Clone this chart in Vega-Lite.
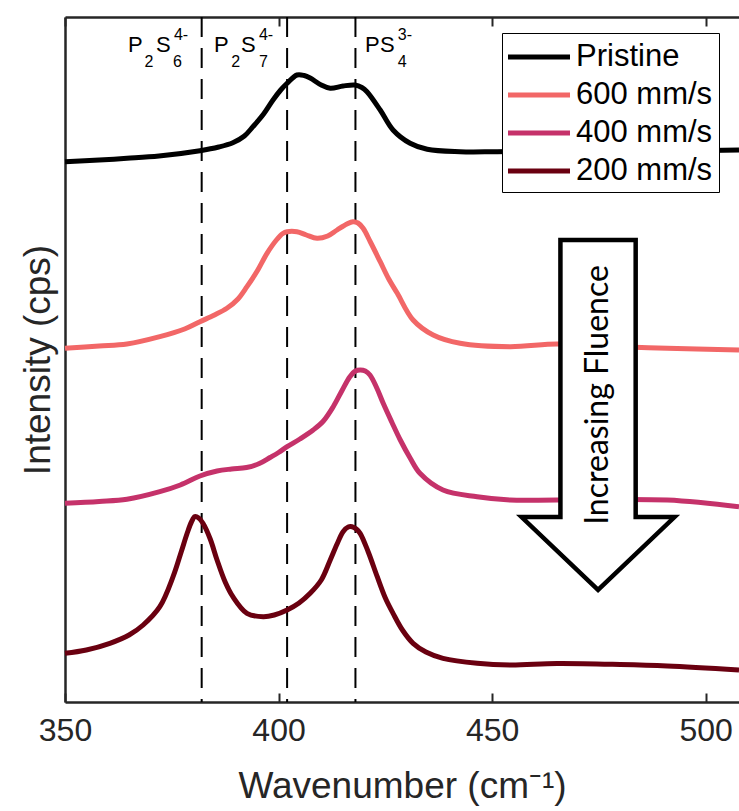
{
  "$schema": "https://vega.github.io/schema/vega-lite/v6.json",
  "width": 674,
  "height": 685,
  "autosize": {"type": "none"},
  "padding": {"left": 65, "top": 17, "right": 0, "bottom": 109},
  "background": "white",
  "config": {
    "view": {"stroke": null},
    "font": "Liberation Sans",
    "axis": {
      "domainColor": "#262626",
      "domainWidth": 2.5,
      "tickColor": "#262626",
      "tickWidth": 2,
      "labelColor": "#262626",
      "labelFont": "Liberation Sans",
      "titleFont": "Liberation Sans",
      "titleColor": "#262626",
      "titleFontWeight": "normal",
      "grid": false
    },
    "legend": {
      "labelFont": "Liberation Sans",
      "labelFontSize": 31,
      "labelColor": "#000000",
      "symbolType": "M-2,0H2",
      "symbolStrokeWidth": 5,
      "symbolSize": 961,
      "symbolOffset": 13,
      "strokeColor": "#000000",
      "fillColor": "white",
      "padding": 6,
      "rowPadding": 5,
      "labelOffset": 19
    }
  },
  "datasets": {
    "spectra": [
      {"series": "Pristine", "wn": 350, "I": 540.3},
      {"series": "Pristine", "wn": 358, "I": 542},
      {"series": "Pristine", "wn": 364.5, "I": 543.7},
      {"series": "Pristine", "wn": 372, "I": 546},
      {"series": "Pristine", "wn": 381.6, "I": 551.3},
      {"series": "Pristine", "wn": 386, "I": 555},
      {"series": "Pristine", "wn": 389.3, "I": 559.3},
      {"series": "Pristine", "wn": 392, "I": 566},
      {"series": "Pristine", "wn": 394, "I": 575.3},
      {"series": "Pristine", "wn": 396.5, "I": 588},
      {"series": "Pristine", "wn": 398.7, "I": 602},
      {"series": "Pristine", "wn": 400.5, "I": 612},
      {"series": "Pristine", "wn": 402, "I": 618.7},
      {"series": "Pristine", "wn": 404.3, "I": 627},
      {"series": "Pristine", "wn": 406, "I": 626.5},
      {"series": "Pristine", "wn": 407.4, "I": 624},
      {"series": "Pristine", "wn": 410, "I": 617},
      {"series": "Pristine", "wn": 412.1, "I": 613.7},
      {"series": "Pristine", "wn": 415.1, "I": 616},
      {"series": "Pristine", "wn": 417.9, "I": 617},
      {"series": "Pristine", "wn": 419.5, "I": 614.5},
      {"series": "Pristine", "wn": 420.7, "I": 610.3},
      {"series": "Pristine", "wn": 423.8, "I": 592},
      {"series": "Pristine", "wn": 426.8, "I": 572},
      {"series": "Pristine", "wn": 430.8, "I": 558.7},
      {"series": "Pristine", "wn": 434.8, "I": 552.7},
      {"series": "Pristine", "wn": 442.5, "I": 550.3},
      {"series": "Pristine", "wn": 451.2, "I": 550.3},
      {"series": "Pristine", "wn": 470, "I": 551},
      {"series": "Pristine", "wn": 490, "I": 551},
      {"series": "Pristine", "wn": 507.8, "I": 552},

      {"series": "600 mm/s", "wn": 350, "I": 353.7},
      {"series": "600 mm/s", "wn": 358, "I": 356},
      {"series": "600 mm/s", "wn": 364.5, "I": 358},
      {"series": "600 mm/s", "wn": 372.2, "I": 365.3},
      {"series": "600 mm/s", "wn": 378, "I": 373},
      {"series": "600 mm/s", "wn": 381.6, "I": 380.3},
      {"series": "600 mm/s", "wn": 385, "I": 387},
      {"series": "600 mm/s", "wn": 387.9, "I": 393.7},
      {"series": "600 mm/s", "wn": 390.5, "I": 403},
      {"series": "600 mm/s", "wn": 392.6, "I": 415.3},
      {"series": "600 mm/s", "wn": 395, "I": 431},
      {"series": "600 mm/s", "wn": 397.3, "I": 448.7},
      {"series": "600 mm/s", "wn": 399.5, "I": 462},
      {"series": "600 mm/s", "wn": 401, "I": 468.5},
      {"series": "600 mm/s", "wn": 402, "I": 470.3},
      {"series": "600 mm/s", "wn": 404.3, "I": 470.3},
      {"series": "600 mm/s", "wn": 406.5, "I": 467},
      {"series": "600 mm/s", "wn": 409, "I": 463.7},
      {"series": "600 mm/s", "wn": 411.5, "I": 466},
      {"series": "600 mm/s", "wn": 413.7, "I": 472},
      {"series": "600 mm/s", "wn": 416, "I": 478},
      {"series": "600 mm/s", "wn": 417.4, "I": 480.3},
      {"series": "600 mm/s", "wn": 418.6, "I": 479},
      {"series": "600 mm/s", "wn": 419.8, "I": 473.7},
      {"series": "600 mm/s", "wn": 421.5, "I": 460},
      {"series": "600 mm/s", "wn": 423.8, "I": 440.3},
      {"series": "600 mm/s", "wn": 425.8, "I": 423},
      {"series": "600 mm/s", "wn": 427.8, "I": 408.7},
      {"series": "600 mm/s", "wn": 431.5, "I": 382},
      {"series": "600 mm/s", "wn": 436.2, "I": 367},
      {"series": "600 mm/s", "wn": 442.5, "I": 358.7},
      {"series": "600 mm/s", "wn": 454.2, "I": 355.3},
      {"series": "600 mm/s", "wn": 465.2, "I": 358},
      {"series": "600 mm/s", "wn": 475.3, "I": 356},
      {"series": "600 mm/s", "wn": 491, "I": 353.7},
      {"series": "600 mm/s", "wn": 507.8, "I": 352},

      {"series": "400 mm/s", "wn": 350, "I": 198.7},
      {"series": "400 mm/s", "wn": 358, "I": 200.5},
      {"series": "400 mm/s", "wn": 364.5, "I": 202.7},
      {"series": "400 mm/s", "wn": 372.2, "I": 210.3},
      {"series": "400 mm/s", "wn": 377, "I": 217},
      {"series": "400 mm/s", "wn": 381.6, "I": 226},
      {"series": "400 mm/s", "wn": 385.6, "I": 231},
      {"series": "400 mm/s", "wn": 389, "I": 233},
      {"series": "400 mm/s", "wn": 392.5, "I": 234.5},
      {"series": "400 mm/s", "wn": 395.5, "I": 238.5},
      {"series": "400 mm/s", "wn": 398, "I": 244.5},
      {"series": "400 mm/s", "wn": 400, "I": 249.5},
      {"series": "400 mm/s", "wn": 402, "I": 255.3},
      {"series": "400 mm/s", "wn": 405, "I": 263},
      {"series": "400 mm/s", "wn": 408.1, "I": 272},
      {"series": "400 mm/s", "wn": 410.5, "I": 281},
      {"series": "400 mm/s", "wn": 412.8, "I": 295.3},
      {"series": "400 mm/s", "wn": 414.8, "I": 311},
      {"series": "400 mm/s", "wn": 416.7, "I": 325.3},
      {"series": "400 mm/s", "wn": 418, "I": 331},
      {"series": "400 mm/s", "wn": 419.1, "I": 332},
      {"series": "400 mm/s", "wn": 420.3, "I": 331},
      {"series": "400 mm/s", "wn": 421.4, "I": 327},
      {"series": "400 mm/s", "wn": 423, "I": 314},
      {"series": "400 mm/s", "wn": 424.5, "I": 298.7},
      {"series": "400 mm/s", "wn": 426.5, "I": 280},
      {"series": "400 mm/s", "wn": 428.5, "I": 262},
      {"series": "400 mm/s", "wn": 430.8, "I": 244},
      {"series": "400 mm/s", "wn": 433.1, "I": 228.7},
      {"series": "400 mm/s", "wn": 438.5, "I": 212},
      {"series": "400 mm/s", "wn": 446.5, "I": 205.3},
      {"series": "400 mm/s", "wn": 454.2, "I": 202},
      {"series": "400 mm/s", "wn": 465.2, "I": 202},
      {"series": "400 mm/s", "wn": 491, "I": 202},
      {"series": "400 mm/s", "wn": 507.8, "I": 195.3},

      {"series": "200 mm/s", "wn": 350, "I": 48.7},
      {"series": "200 mm/s", "wn": 355, "I": 52},
      {"series": "200 mm/s", "wn": 360.5, "I": 58.7},
      {"series": "200 mm/s", "wn": 365, "I": 67},
      {"series": "200 mm/s", "wn": 368.3, "I": 77},
      {"series": "200 mm/s", "wn": 372.2, "I": 95.3},
      {"series": "200 mm/s", "wn": 375.3, "I": 125.3},
      {"series": "200 mm/s", "wn": 377.2, "I": 150},
      {"series": "200 mm/s", "wn": 378.6, "I": 168.7},
      {"series": "200 mm/s", "wn": 379.6, "I": 180},
      {"series": "200 mm/s", "wn": 380.4, "I": 185.3},
      {"series": "200 mm/s", "wn": 381.3, "I": 184},
      {"series": "200 mm/s", "wn": 382.3, "I": 178.7},
      {"series": "200 mm/s", "wn": 384, "I": 163},
      {"series": "200 mm/s", "wn": 385.6, "I": 142},
      {"series": "200 mm/s", "wn": 387.5, "I": 120},
      {"series": "200 mm/s", "wn": 389.3, "I": 105.3},
      {"series": "200 mm/s", "wn": 392.6, "I": 88.7},
      {"series": "200 mm/s", "wn": 396.4, "I": 85.3},
      {"series": "200 mm/s", "wn": 399, "I": 87},
      {"series": "200 mm/s", "wn": 402, "I": 92},
      {"series": "200 mm/s", "wn": 404.8, "I": 99},
      {"series": "200 mm/s", "wn": 407.4, "I": 108.7},
      {"series": "200 mm/s", "wn": 410, "I": 122},
      {"series": "200 mm/s", "wn": 412.1, "I": 142},
      {"series": "200 mm/s", "wn": 413.7, "I": 158},
      {"series": "200 mm/s", "wn": 415.1, "I": 170.3},
      {"series": "200 mm/s", "wn": 416.3, "I": 175},
      {"series": "200 mm/s", "wn": 417.2, "I": 175.3},
      {"series": "200 mm/s", "wn": 418.2, "I": 173},
      {"series": "200 mm/s", "wn": 419.1, "I": 168.7},
      {"series": "200 mm/s", "wn": 421, "I": 150},
      {"series": "200 mm/s", "wn": 423.1, "I": 125.3},
      {"series": "200 mm/s", "wn": 425, "I": 104},
      {"series": "200 mm/s", "wn": 426.8, "I": 88.7},
      {"series": "200 mm/s", "wn": 429, "I": 72},
      {"series": "200 mm/s", "wn": 431.5, "I": 58.7},
      {"series": "200 mm/s", "wn": 434.5, "I": 50},
      {"series": "200 mm/s", "wn": 438.5, "I": 43.7},
      {"series": "200 mm/s", "wn": 446.5, "I": 38.7},
      {"series": "200 mm/s", "wn": 454.2, "I": 37},
      {"series": "200 mm/s", "wn": 465.2, "I": 38.5},
      {"series": "200 mm/s", "wn": 480, "I": 37.5},
      {"series": "200 mm/s", "wn": 491, "I": 36},
      {"series": "200 mm/s", "wn": 507.8, "I": 32}
    ],
    "peaks": [
      {"wn": 382},
      {"wn": 402},
      {"wn": 418}
    ],
    "peakText": [
      {"piece": "P", "role": "main", "wn": 364.75},
      {"piece": "2", "role": "sub", "wn": 368.6},
      {"piece": "S", "role": "main", "wn": 371.3},
      {"piece": "6", "role": "sub", "wn": 375.3},
      {"piece": "4-", "role": "sup", "wn": 375.5},
      {"piece": "P", "role": "main", "wn": 384.89},
      {"piece": "2", "role": "sub", "wn": 388.9},
      {"piece": "S", "role": "main", "wn": 391.2},
      {"piece": "7", "role": "sub", "wn": 395.4},
      {"piece": "4-", "role": "sup", "wn": 395.4},
      {"piece": "P", "role": "main", "wn": 420.26},
      {"piece": "S", "role": "main", "wn": 423.77},
      {"piece": "4", "role": "sub", "wn": 427.9},
      {"piece": "3-", "role": "sup", "wn": 427.9}
    ],
    "arrow": [
      {"wn": 474.8, "I": 287, "text": "Increasing Fluence"}
    ]
  },
  "layer": [
    {
      "data": {"name": "peaks"},
      "mark": {"type": "rule", "color": "#000000", "strokeWidth": 2, "strokeDash": [20, 11]},
      "encoding": {
        "x": {
          "field": "wn", "type": "quantitative",
          "scale": {"domain": [350, 507.8], "nice": false, "zero": false},
          "axis": {"orient": "top", "values": [350, 400, 450, 500], "labels": false, "title": null, "tickSize": -9, "domain": true}
        }
      }
    },
    {
      "data": {"name": "spectra"},
      "mark": {"type": "line", "strokeWidth": 5, "interpolate": "catmull-rom"},
      "encoding": {
        "x": {
          "field": "wn", "type": "quantitative",
          "scale": {"domain": [350, 507.8], "nice": false, "zero": false},
          "axis": {
            "orient": "bottom", "values": [350, 400, 450, 500], "tickSize": -9,
            "labelFontSize": 32, "labelPadding": 22, "labelFlush": false,
            "title": "Wavenumber (cm⁻¹)", "titleFontSize": 37, "titlePadding": 22
          }
        },
        "y": {
          "field": "I", "type": "quantitative",
          "scale": {"domain": [0, 685], "nice": false, "zero": false},
          "axis": {
            "orient": "left", "ticks": false, "labels": false,
            "title": "Intensity (cps)", "titleFontSize": 37, "titlePadding": 8
          }
        },
        "color": {
          "field": "series", "type": "nominal",
          "scale": {
            "domain": ["Pristine", "600 mm/s", "400 mm/s", "200 mm/s"],
            "range": ["#000000", "#F26767", "#C5326A", "#6A0010"]
          },
          "legend": {"orient": "none", "legendX": 437, "legendY": 16, "title": null}
        },
        "order": {"field": "wn", "type": "quantitative"}
      }
    },
    {
      "data": {"name": "peakText"},
      "transform": [{"filter": "datum.role === 'main'"}],
      "mark": {"type": "text", "fontSize": 22, "font": "Liberation Sans", "color": "#000000", "align": "left", "baseline": "alphabetic"},
      "encoding": {
        "x": {"field": "wn", "type": "quantitative", "axis": null},
        "y": {"datum": 649.7, "type": "quantitative", "axis": null},
        "text": {"field": "piece"}
      }
    },
    {
      "data": {"name": "peakText"},
      "transform": [{"filter": "datum.role === 'sub'"}],
      "mark": {"type": "text", "fontSize": 16, "font": "Liberation Sans", "color": "#000000", "align": "left", "baseline": "alphabetic"},
      "encoding": {
        "x": {"field": "wn", "type": "quantitative", "axis": null},
        "y": {"datum": 635, "type": "quantitative", "axis": null},
        "text": {"field": "piece"}
      }
    },
    {
      "data": {"name": "peakText"},
      "transform": [{"filter": "datum.role === 'sup'"}],
      "mark": {"type": "text", "fontSize": 16, "font": "Liberation Sans", "color": "#000000", "align": "left", "baseline": "alphabetic"},
      "encoding": {
        "x": {"field": "wn", "type": "quantitative", "axis": null},
        "y": {"datum": 662, "type": "quantitative", "axis": null},
        "text": {"field": "piece"}
      }
    },
    {
      "data": {"name": "arrow"},
      "mark": {
        "type": "point",
        "shape": "M-0.215,-1L0.215,-1L0.215,0.583L0.437,0.583L0,1L-0.437,0.583L-0.215,0.583Z",
        "size": 122500,
        "filled": true,
        "fill": "white",
        "stroke": "#000000",
        "strokeWidth": 4.5,
        "opacity": 1,
        "fillOpacity": 1,
        "strokeOpacity": 1
      },
      "encoding": {
        "x": {"field": "wn", "type": "quantitative", "axis": null},
        "y": {"field": "I", "type": "quantitative", "axis": null}
      }
    },
    {
      "data": {"name": "arrow"},
      "mark": {"type": "text", "font": "Lato", "fontSize": 32, "angle": 270, "align": "center", "baseline": "middle", "color": "#000000"},
      "encoding": {
        "x": {"field": "wn", "type": "quantitative", "axis": null},
        "y": {"datum": 307, "type": "quantitative", "axis": null},
        "text": {"field": "text"}
      }
    }
  ],
  "resolve": {"axis": {"x": "independent", "y": "independent"}}
}
